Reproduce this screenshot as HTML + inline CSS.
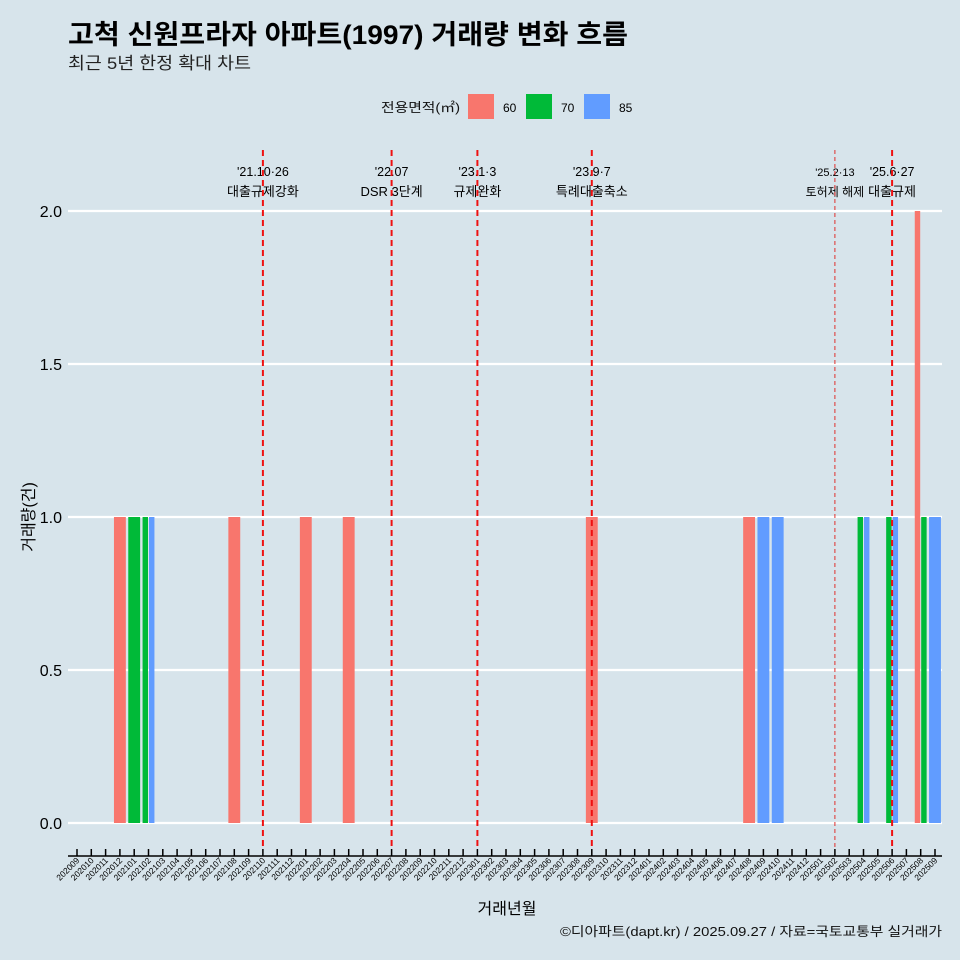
<!DOCTYPE html>
<html><head><meta charset="utf-8">
<style>
body{margin:0;background:#d7e4eb;}
svg{display:block;font-family:"Liberation Sans","Noto Sans CJK KR",sans-serif;}
</style></head>
<body>
<svg id="chart" width="960" height="960" viewBox="0 0 960 960">
<rect width="960" height="960" fill="#d7e4eb"/>
<text x="68" y="44" font-size="27" font-weight="bold" fill="#000" textLength="560" lengthAdjust="spacingAndGlyphs">고척 신원프라자 아파트(1997) 거래량 변화 흐름</text>
<text x="68" y="69" font-size="17" fill="#222" textLength="183" lengthAdjust="spacingAndGlyphs">최근 5년 한정 확대 차트</text>
<g>
<text x="381" y="112" font-size="13" fill="#111" textLength="79" lengthAdjust="spacingAndGlyphs">전용면적(㎡)</text>
<rect x="468" y="94" width="26" height="25" fill="#f8766d"/>
<text x="503" y="112" font-size="12">60</text>
<rect x="526" y="94" width="26" height="25" fill="#00ba38"/>
<text x="561" y="112" font-size="12">70</text>
<rect x="584" y="94" width="26" height="25" fill="#619cff"/>
<text x="619" y="112" font-size="12">85</text>
</g>
<g id="plot"></g>
<text x="507" y="914" font-size="16" text-anchor="middle">거래년월</text>
<text transform="translate(34,517) rotate(-90)" font-size="16" text-anchor="middle">거래량(건)</text>
<text x="560" y="936" font-size="13" fill="#111" textLength="382" lengthAdjust="spacingAndGlyphs">©디아파트(dapt.kr) / 2025.09.27 / 자료=국토교통부 실거래가</text>
</svg>
<script>
const months=[];
for(let y=2020,m=9;!(y===2025&&m===10);){months.push(String(y)+String(m).padStart(2,'0'));m++;if(m>12){m=1;y++;}}
const barMonths=['202012','202101','202102','202102','202108','202201','202204','202309','202408','202409','202410','202504','202504','202506','202506','202508','202508','202509'];
const barGroups=['60','70','70','85','60','60','60','60','60','85','85','70','85','70','85','60','70','85'];
const barValues=[1,1,1,1,1,1,1,1,1,1,1,1,1,1,1,2,1,1];
const yTicks=[0,0.5,1,1.5,2];
const eventMonths=['202110','202207','202301','202309','202502','202506'];
const eventDates=["'21.10·26","'22.07","'23.1·3","'23.9·7","'25.2·13","'25.6·27"];
const eventLabels=['대출규제강화','DSR 3단계','규제완화','특례대출축소','토허제 해제','대출규제'];
const colors={'60':'#f8766d','70':'#00ba38','85':'#619cff'};
const NS='http://www.w3.org/2000/svg';
const g=document.getElementById('plot');
const x0=77,dx=(935-77)/60;
const xPos=m=>x0+months.indexOf(m)*dx;
const yPos=v=>823-v*306;
function el(t,a){const e=document.createElementNS(NS,t);for(const k in a)e.setAttribute(k,a[k]);g.appendChild(e);return e;}
yTicks.forEach(v=>{
 const l=el('line',{x1:68,x2:942,y1:yPos(v),y2:yPos(v),stroke:'#fff','stroke-width':2.2});
 
 
 const t=el('text',{x:62,y:yPos(v)+6,'font-size':16,'text-anchor':'end'});
 t.textContent=v.toFixed(1);
 
 
});
const bw=dx*0.9;
const counts={};barMonths.forEach(m=>counts[m]=(counts[m]||0)+1);
const idx={};
barMonths.forEach((m,i)=>{
 const n=counts[m];const k=idx[m]||0;idx[m]=k+1;
 const w=bw/n;const cx=xPos(m)-bw/2+k*w;
 const r=el('rect',{x:cx+0.5,y:yPos(barValues[i]),width:w-1,height:yPos(0)-yPos(barValues[i]),fill:colors[barGroups[i]]});
 
 
});
const ax=el('line',{x1:68,x2:942,y1:856,y2:856,stroke:'#000','stroke-width':1.5});


months.forEach(m=>{
 const x=xPos(m);
 const tk=el('line',{x1:x,x2:x,y1:849,y2:856,stroke:'#000','stroke-width':1.5});
 
 
 const t=el('text',{transform:`translate(${x+3},861) rotate(-45)`,'font-size':8.5,'text-anchor':'end'});
 t.textContent=m;
 
 
});
eventMonths.forEach((m,i)=>{
 const x=xPos(m);
 const small=m==='202502';
 const t1=el('text',{x:x,y:176,'font-size':small?11:12.5,'text-anchor':'middle'});
 t1.textContent=eventDates[i];
 
 
 const t2=el('text',{x:x,y:196,'font-size':small?12:13,'text-anchor':'middle'});
 t2.textContent=eventLabels[i];
 
 
 const l=el('line',{x1:x,x2:x,y1:150,y2:848,stroke:small?'#e0302c':'#ee1111','stroke-width':small?1:2,'stroke-dasharray':small?'4 3':'6 4'});
 
 
});
</script>
</body></html>
